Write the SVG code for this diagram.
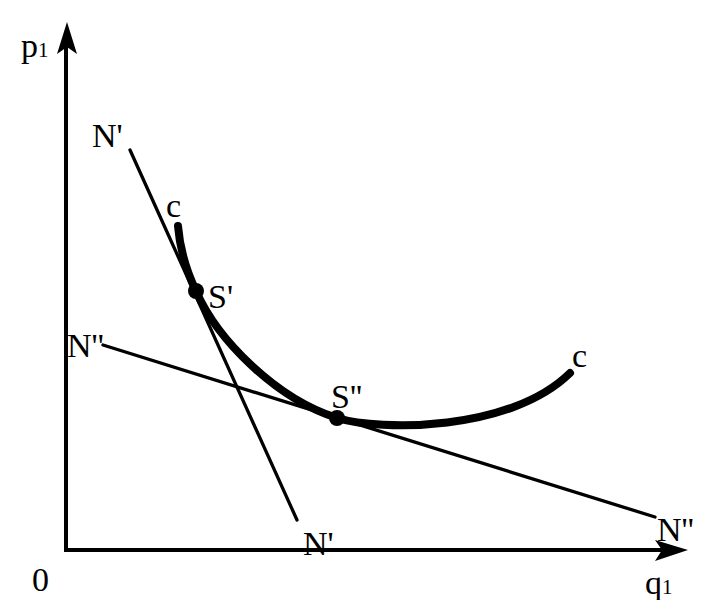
<svg xmlns="http://www.w3.org/2000/svg" width="707" height="600" viewBox="0 0 707 600">
<style>
text{font-family:"Liberation Serif","Times New Roman",serif;font-size:34px;fill:#000}
.ax{stroke:#000;stroke-width:4;fill:none}
.ln{stroke:#000;stroke-width:3.3;fill:none;stroke-linecap:round}
.cv{stroke:#000;stroke-width:8;fill:none;stroke-linecap:round}
</style>
<rect width="707" height="600" fill="#fff"/>
<g id="axes">
<path d="M66,550 V40" class="ax"/>
<path d="M57,54 L67,22 L77,54 L67,47 Z" fill="#000"/>
<path d="M64,550 H672" class="ax"/>
<path d="M655,540 L688,550 L655,561 L662,550 Z" fill="#000"/>
</g>
<g id="connectors">
<path id="lineN1" d="M130,150 L297,520" class="ln"/>
<path id="lineN2" d="M103,345 L655,517" class="ln"/>
<path id="curveC" d="M178,226 C180,250 186,270 196,291 C218,341 277,399 337,418 C380,431 510,432 570,373" class="cv"/>
</g>
<g id="S1"><circle cx="196" cy="291" r="8" fill="#000"/><text x="208" y="308">S'</text></g>
<g id="S2"><circle cx="337" cy="418" r="8" fill="#000"/><text x="331" y="408">S''</text></g>
<g id="labels">
<text x="21" y="57">p<tspan font-size="21">1</tspan></text>
<text x="92" y="147">N'</text>
<text x="166" y="217">c</text>
<text x="67" y="357">N''</text>
<text x="572" y="367">c</text>
<text x="303" y="555">N'</text>
<text x="657" y="541">N''</text>
<text x="32" y="591">0</text>
<text x="645" y="594">q<tspan font-size="21">1</tspan></text>
</g>
</svg>
